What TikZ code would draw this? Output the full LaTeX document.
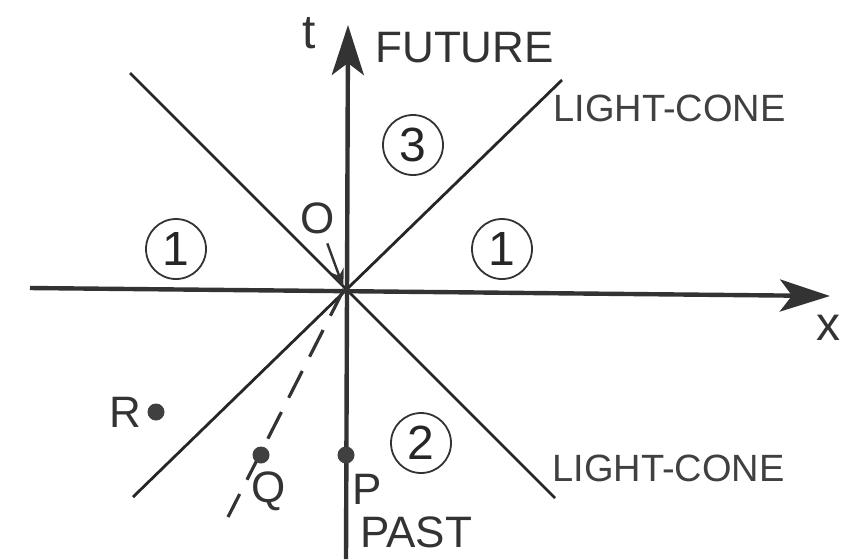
\documentclass[tikz,border=0pt]{standalone}
\usepackage{fontspec}
\setmainfont{Liberation Sans}
\usetikzlibrary{arrows.meta}

\begin{document}
\begin{tikzpicture}[x=0.5pt, y=-0.5pt,
        axis/.style={line width=2.2pt, black!80, -{Stealth[length=25pt, width=16pt, inset=6pt]}},
        cone/.style={line width=1.4pt, black!85},
        lbl/.style={font=\fontsize{22}{24}\selectfont, text=black!80, inner sep=0pt},
        cone lbl/.style={font=\fontsize{19}{21}\selectfont, text=black!75, anchor=west, inner sep=0pt},
        region/.style={circle, draw=black!80, line width=0.9pt, minimum size=30pt, inner sep=0pt, font=\fontsize{24}{26}\selectfont, text=black!85},
        event/.style={circle, fill=black!75, minimum size=8.5pt, inner sep=0pt}]
    \useasboundingbox (0,0) rectangle (849,559);

    % axes and cone
    \coordinate (O) at (344,289);
    \coordinate (tbot) at (346,559);
    \coordinate (ttop) at (348,25);
    \coordinate (xleft) at (30,288);
    \coordinate (xright) at (830,296);
    \coordinate (ul) at (130,73);
    \coordinate (lr) at (555,498);
    \coordinate (ur) at (562,80);
    \coordinate (ll) at (133,497);
    \coordinate (qend) at (228,517);

    \draw[cone] (ul) -- (lr);
    \draw[cone] (ll) -- (ur);
    \draw[line width=1.6pt, black!80, dash pattern=on 15pt off 8pt] (O) -- (qend);
    \draw[axis] (tbot) -- (ttop);
    \draw[axis] (xleft) -- (xright);

    \node[lbl, font=\fontsize{24}{26}\selectfont] (t) at (309,33) {t};
    \node[lbl, anchor=west] (future) at (375,48) {FUTURE};
    \node[lbl, font=\fontsize{24}{26}\selectfont] (x) at (828,328) {x};
    \node[cone lbl] (lc1) at (553,108) {LIGHT-CONE};
    \node[cone lbl] (lc2) at (552,468) {LIGHT-CONE};

    % regions
    \node[region] (r3) at (413,145) {3};
    \node[region] (r1l) at (176,249) {1};
    \node[region] (r1r) at (502,249) {1};
    \node[region] (r2) at (421,443) {2};

    % origin
    \node[lbl] (olab) at (318,218) {O};
    \draw[line width=1.2pt, black!80, -{Stealth[length=9pt, width=7pt]}, shorten <=5pt, shorten >=1pt] (olab) -- (O);

    % events
    \node[event] (P) at (346,455) {};
    \node[event] (Q) at (261,455) {};
    \node[event] (R) at (156,412) {};
    \node[lbl] (plab) at (367,489) {P};
    \node[lbl] (qlab) at (269,491) {Q};
    \node[lbl] (rlab) at (125,412) {R};
    \node[lbl, anchor=west] (past) at (360,532) {PAST};
\end{tikzpicture}
\end{document}
